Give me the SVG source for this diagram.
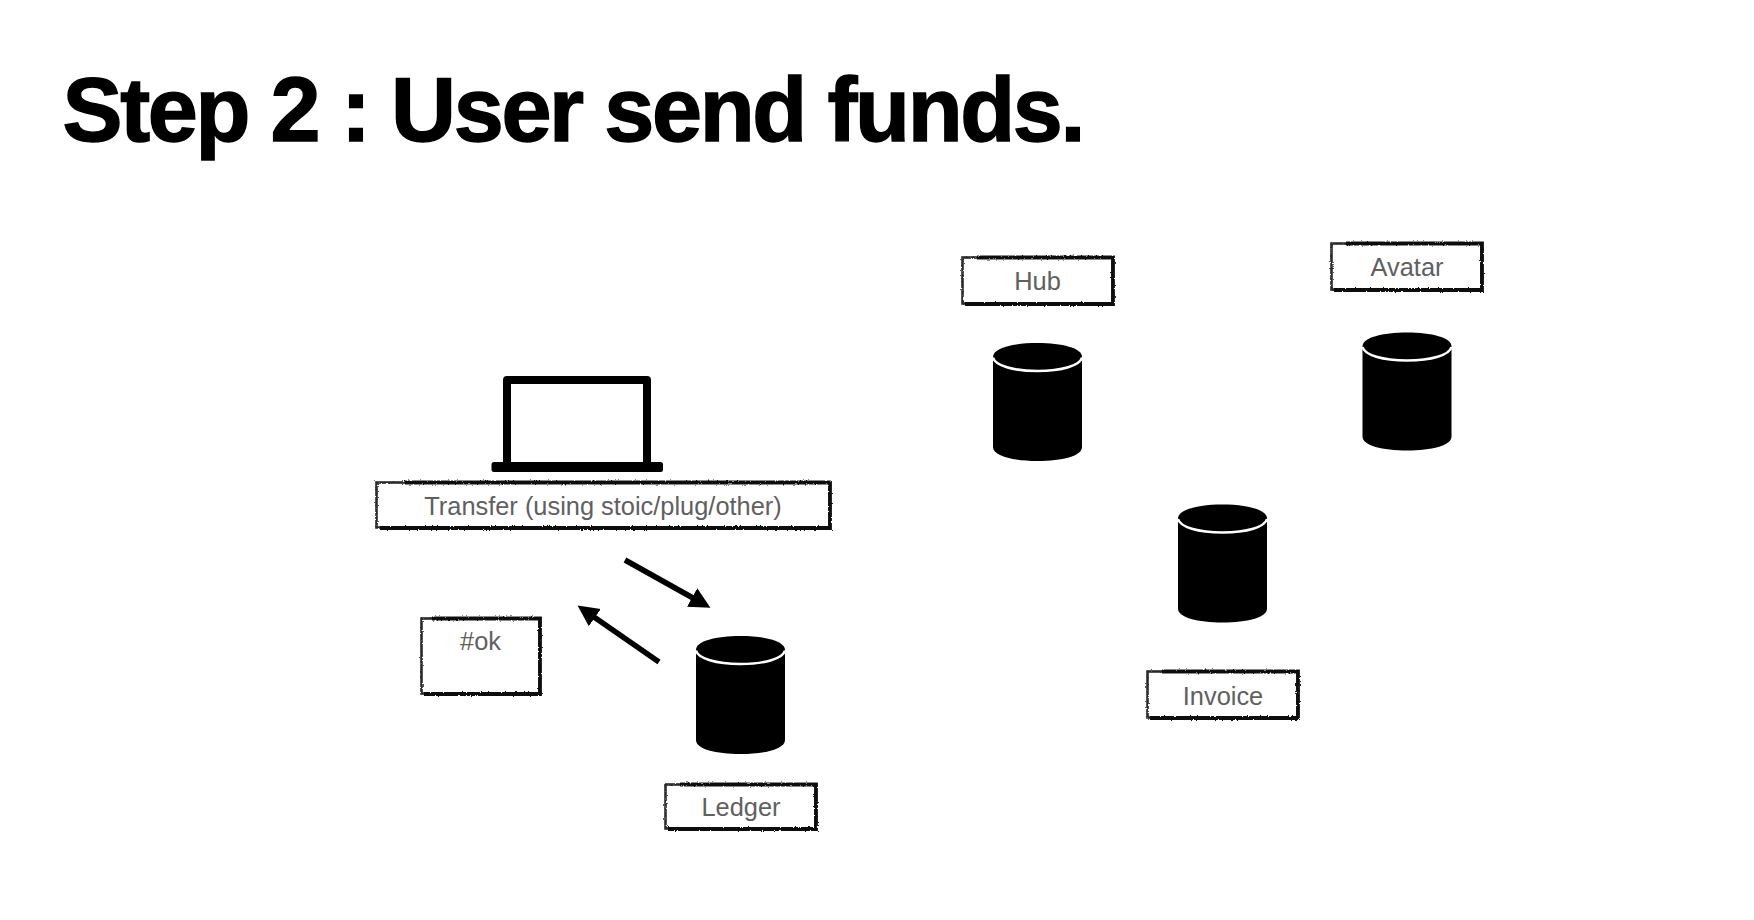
<svg xmlns="http://www.w3.org/2000/svg" xmlns:xlink="http://www.w3.org/1999/xlink" width="1754" height="920" viewBox="0 0 1754 920">
<style>
.t{font-family:"Liberation Sans",Arial,sans-serif;font-size:25.4px;fill:#606060;text-anchor:middle}
.title{font-family:"Liberation Sans",Arial,sans-serif;font-size:90px;font-weight:700;fill:#000;stroke:#000;stroke-width:1.4px}
.box{fill:#fff;stroke:#2a2a2a;stroke-width:2.6;filter:url(#rough)}
.edge{fill:none;stroke:#111;stroke-width:3.8;filter:url(#rough)}
.lk{stroke:#000;stroke-width:5.500;fill:none;marker-end:url(#ah)}
</style>
<defs>
<filter id="rough" x="-5%" y="-15%" width="110%" height="130%">
<feTurbulence type="fractalNoise" baseFrequency="0.6" numOctaves="2" seed="4"/>
<feDisplacementMap in="SourceGraphic" scale="2.6"/>
<feGaussianBlur stdDeviation="0.35"/>
</filter>
<marker id="ah" markerUnits="userSpaceOnUse" markerWidth="22" markerHeight="22" refX="1" refY="11" orient="auto">
<path d="M0 0.500L21 11L0 21.500Z" fill="#000"/>
</marker>
<g id="cyl">
<path d="M0 14C0 5 20 0 44.500 0S89 5 89 14V104C89 113 69 118 44.500 118S0 113 0 104Z" fill="#000"/>
<path d="M0 14.500C2 22.500 20 28 44.500 28S87 22.500 89 14.500" fill="none" stroke="#fff" stroke-width="2.500"/>
</g>
</defs>
<rect width="1754" height="920" fill="#fff"/>
<text id="title" class="title" x="62.500" y="141" textLength="1023" lengthAdjust="spacing">Step 2 : User send funds.</text>
<g id="connectors">
<line class="lk" x1="625" y1="560" x2="693" y2="598"/>
<line class="lk" x1="659" y1="662" x2="594" y2="617"/>
</g>
<g id="laptop">
<rect x="507" y="380" width="140" height="86" fill="#fff" stroke="#000" stroke-width="8" stroke-linejoin="round"/>
<rect x="491.500" y="462" width="171.500" height="10" rx="2.500" fill="#000"/>
</g>
<g id="transfer">
<rect class="box" x="376.500" y="482.500" width="453" height="45"/>
<path class="edge" d="M405 482.500H830V528H380"/>
<text class="t" x="603" y="515">Transfer (using stoic/plug/other)</text>
</g>
<g id="ok">
<rect class="box" x="421.500" y="618.500" width="118" height="75"/>
<path class="edge" d="M432 618.500H540V694H424"/>
<text class="t" x="480.500" y="649.500">#ok</text>
</g>
<g id="ledger">
<use xlink:href="#cyl" href="#cyl" x="696" y="636"/>
<rect class="box" x="665.500" y="784.500" width="150" height="44"/>
<path class="edge" d="M680 784.500H816V829H668"/>
<text class="t" x="741" y="816">Ledger</text>
</g>
<g id="hub">
<use xlink:href="#cyl" href="#cyl" x="993" y="343"/>
<rect class="box" x="962.500" y="257.500" width="150" height="46"/>
<path class="edge" d="M977 257.500H1113V304H965"/>
<text class="t" x="1037.500" y="290">Hub</text>
</g>
<g id="avatar">
<use xlink:href="#cyl" href="#cyl" x="1362.500" y="332.500"/>
<rect class="box" x="1331.500" y="243.500" width="150" height="46"/>
<path class="edge" d="M1346 243.500H1482V290H1334"/>
<text class="t" x="1407" y="276">Avatar</text>
</g>
<g id="invoice">
<use xlink:href="#cyl" href="#cyl" x="1178" y="504.500"/>
<rect class="box" x="1147.500" y="671.500" width="150" height="46"/>
<path class="edge" d="M1162 671.500H1298V718H1150"/>
<text class="t" x="1223" y="705">Invoice</text>
</g>
</svg>
